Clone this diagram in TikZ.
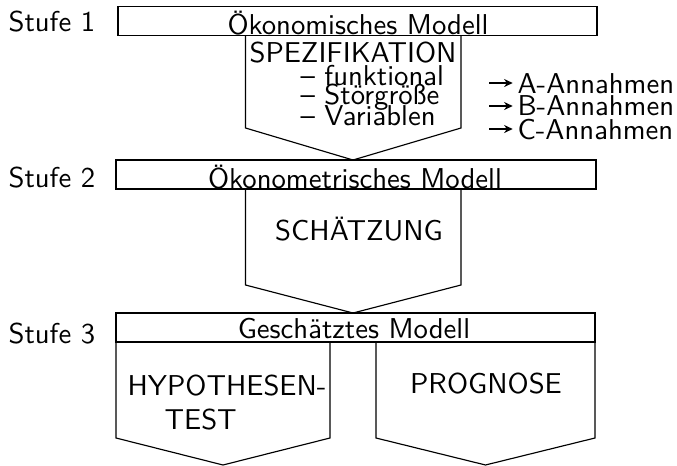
\documentclass[tikz,border=0pt]{standalone}
\usepackage{fontspec}
\usetikzlibrary{arrows.meta}
\begin{document}
\begin{tikzpicture}[x=0.3484pt,y=-0.3484pt,
  box/.style={draw,line width=0.4pt},
  txt/.style={inner sep=0pt,font=\sffamily},
  arr/.style={-{Stealth[length=3pt,width=2.8pt]},line width=0.4pt}]
\useasboundingbox (0,0) rectangle (677,466);
% shapes
\draw[box] (118,6.5) rectangle (597,35.5);
\draw[box] (245.5,35.5) -- (245.5,128) -- (353,160) -- (461,128) -- (461,35.5);
\draw[box] (116,160) rectangle (596,189);
\draw[box] (245.5,189) -- (245.5,285) -- (353,313) -- (461,285) -- (461,189);
\draw[box] (116,313) rectangle (595,342);
\draw[box] (116,342) -- (116,438) -- (223,465) -- (330,438) -- (330,342);
\draw[box] (376,342) -- (376,438) -- (485.5,465) -- (595,438) -- (595,342);
% texts
\node[txt,anchor=base west] (s1) at (8,32) {Stufe 1};
\node[txt,anchor=base west] (s2) at (8,187) {Stufe 2};
\node[txt,anchor=base west] (s3) at (8,343) {Stufe 3};
\node[txt,anchor=base] (m1) at (358,34) {Ökonomisches Modell};
\node[txt,anchor=base] (m2) at (355,188) {Ökonometrisches Modell};
\node[txt,anchor=base] (m3) at (354,338) {Geschätztes Modell};
\node[txt,anchor=base] (spez) at (353,62) {SPEZIFIKATION};
\node[txt,anchor=base west] (f1) at (300,85) {– funktional};
\node[txt,anchor=base west] (f2) at (300,105) {– Störgröße};
\node[txt,anchor=base west] (f3) at (300,126) {– Variablen};
\node[txt,anchor=base west] (aA) at (517,93) {A-Annahmen};
\node[txt,anchor=base west] (aB) at (517,116) {B-Annahmen};
\node[txt,anchor=base west] (aC) at (517,139) {C-Annahmen};
\node[txt,anchor=base] (sch) at (359,240) {SCHÄTZUNG};
\node[txt,anchor=base west] (hyp) at (127,395) {HYPOTHESEN-};
\node[txt,anchor=base west] (test) at (164,429) {TEST};
\node[txt,anchor=base] (prog) at (486,393) {PROGNOSE};
% arrows
\coordinate (pA) at (489,83);
\coordinate (pB) at (489,106);
\coordinate (pC) at (489,129);
\draw[arr] (pA) -- ([xshift=-1.5pt]pA -| aA.west);
\draw[arr] (pB) -- ([xshift=-1.5pt]pB -| aB.west);
\draw[arr] (pC) -- ([xshift=-1.5pt]pC -| aC.west);
\end{tikzpicture}
\end{document}
